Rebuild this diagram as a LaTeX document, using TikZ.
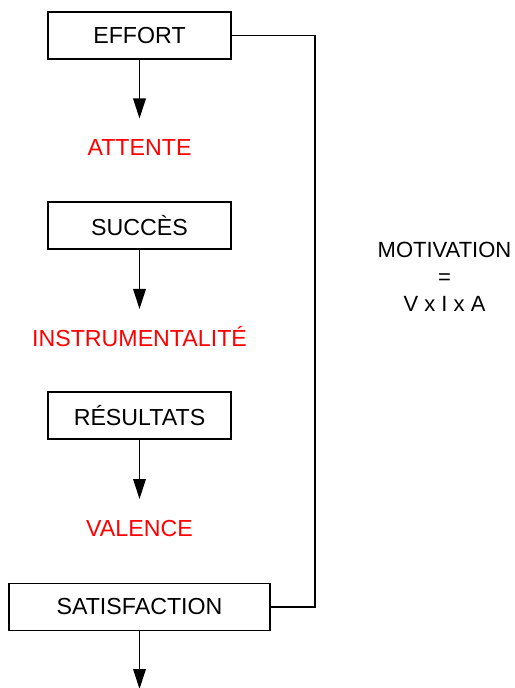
\documentclass[tikz,border=0pt]{standalone}
\usepackage{fontspec}
\setmainfont{Liberation Sans}
\usetikzlibrary{arrows.meta}

\begin{document}
\begin{tikzpicture}[x=0.5pt,y=-0.5pt,line width=0.7pt,
    font=\fontsize{11.6}{13.3}\selectfont,
    box/.style={draw,minimum width=91.5pt,minimum height=23.5pt,inner sep=0pt},
    lbl/.style={text=red,text height=8.3pt,text depth=0pt,inner xsep=0pt,inner ysep=10pt},
    flow/.style={-{Triangle[width=6.3pt,length=10pt]}}]
  \useasboundingbox (0,0) rectangle (514,688);

  \node[box] (effort) at (139.5,35.5) {EFFORT};
  \node[lbl] (attente) at (139.5,147.5) {ATTENTE};
  \node[box] (succes) at (139.5,225.5) {SUCCÈS};
  \node[lbl] (instru) at (139.5,338) {INSTRUMENTALITÉ};
  \node[box] (result) at (139.5,415.5) {RÉSULTATS};
  \node[lbl] (valence) at (139.5,528) {VALENCE};
  \node[box,minimum width=130.5pt] (satisf) at (139.5,607) {SATISFACTION};

  \node[align=center,font=\fontsize{11}{13.6}\selectfont] (motiv) at (444.5,277) {MOTIVATION\\=\\V x I x A};

  \draw[flow] (effort) -- (attente);
  \draw[flow] (succes) -- (instru);
  \draw[flow] (result) -- (valence);

  \coordinate (out) at (139.5,689);
  \draw[flow] (satisf) -- (out);

  % retour de l'effort
  \coordinate (loop) at (315,35.5);
  \draw (effort.east) -- (loop) |- (satisf.east);
\end{tikzpicture}
\end{document}
